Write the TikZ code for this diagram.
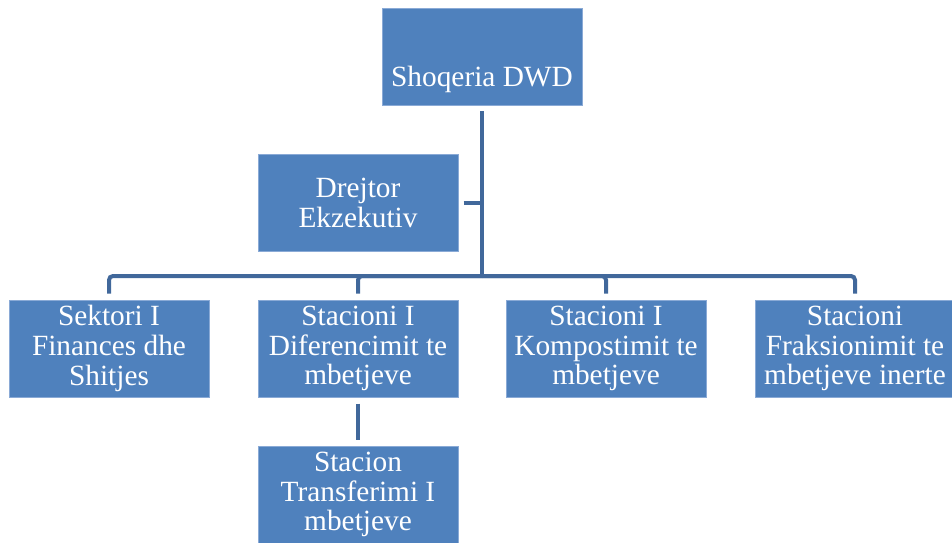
\documentclass[tikz,border=0pt]{standalone}
\usepackage{fontspec}
\setmainfont{Liberation Serif}
\usepackage{tikz}
\definecolor{boxblue}{HTML}{4F81BD}
\definecolor{boxedge}{HTML}{8AAAD6}
\definecolor{linkblue}{HTML}{41689B}

\begin{document}
\begin{tikzpicture}[x=0.75pt,y=-0.75pt]
  \useasboundingbox (0,0) rectangle (952,542);
  \tikzset{BoxStyle/.style = {rectangle,
                              fill           = boxblue,
                              draw           = boxedge,
                              line width     = 0.5pt,
                              text           = white,
                              align          = center,
                              inner sep      = 0pt,
                              minimum width  = 150pt,
                              minimum height = 73pt,
                              font           = \fontsize{22}{22.2}\selectfont}}

  \tikzset{TextStyle/.style = {text = white,
                               align = center,
                               font  = \fontsize{22}{22.2}\selectfont}}

  \tikzset{LinkStyle/.style = {draw = linkblue, line width = 3pt}}

     \node[BoxStyle] (dwd) at (482,57) {};
     \node[TextStyle] (dwdtxt) at ([yshift=-16.5pt]dwd.center) {Shoqeria DWD};
     \node[BoxStyle] (drj) at (358,203) {Drejtor\\Ekzekutiv};
     \node[BoxStyle] (sek) at (109,348.5) {Sektori I\\Finances dhe\\Shitjes};
     \node[BoxStyle] (dif) at (358,348.5) {Stacioni I\\Diferencimit te\\mbetjeve};
     \node[BoxStyle] (kom) at (606,348.5) {Stacioni I\\Kompostimit te\\mbetjeve};
     \node[BoxStyle] (frk) at (855,348.5) {Stacioni\\Fraksionimit te\\mbetjeve inerte};
     \node[BoxStyle] (trf) at (358,494.5) {Stacion\\Transferimi I\\mbetjeve};
     \coordinate (bus) at (482,276);

     \draw[LinkStyle, shorten <=4pt] (dwd.south) -- (bus);
     \draw[LinkStyle, shorten <=4pt] (drj.east) -- (drj.east -| bus);
     \draw[LinkStyle, rounded corners=3pt, shorten >=4.5pt] (bus) -| (sek.north);
     \draw[LinkStyle, rounded corners=3pt, shorten >=4.5pt] (bus) -| (dif.north);
     \draw[LinkStyle, rounded corners=3pt, shorten >=4.5pt] (bus) -| (kom.north);
     \draw[LinkStyle, rounded corners=3pt, shorten >=4.5pt] (bus) -| (frk.north);
     \draw[LinkStyle, shorten <=4.5pt, shorten >=4.5pt] (dif.south) -- (trf.north);

\end{tikzpicture}
\end{document}
